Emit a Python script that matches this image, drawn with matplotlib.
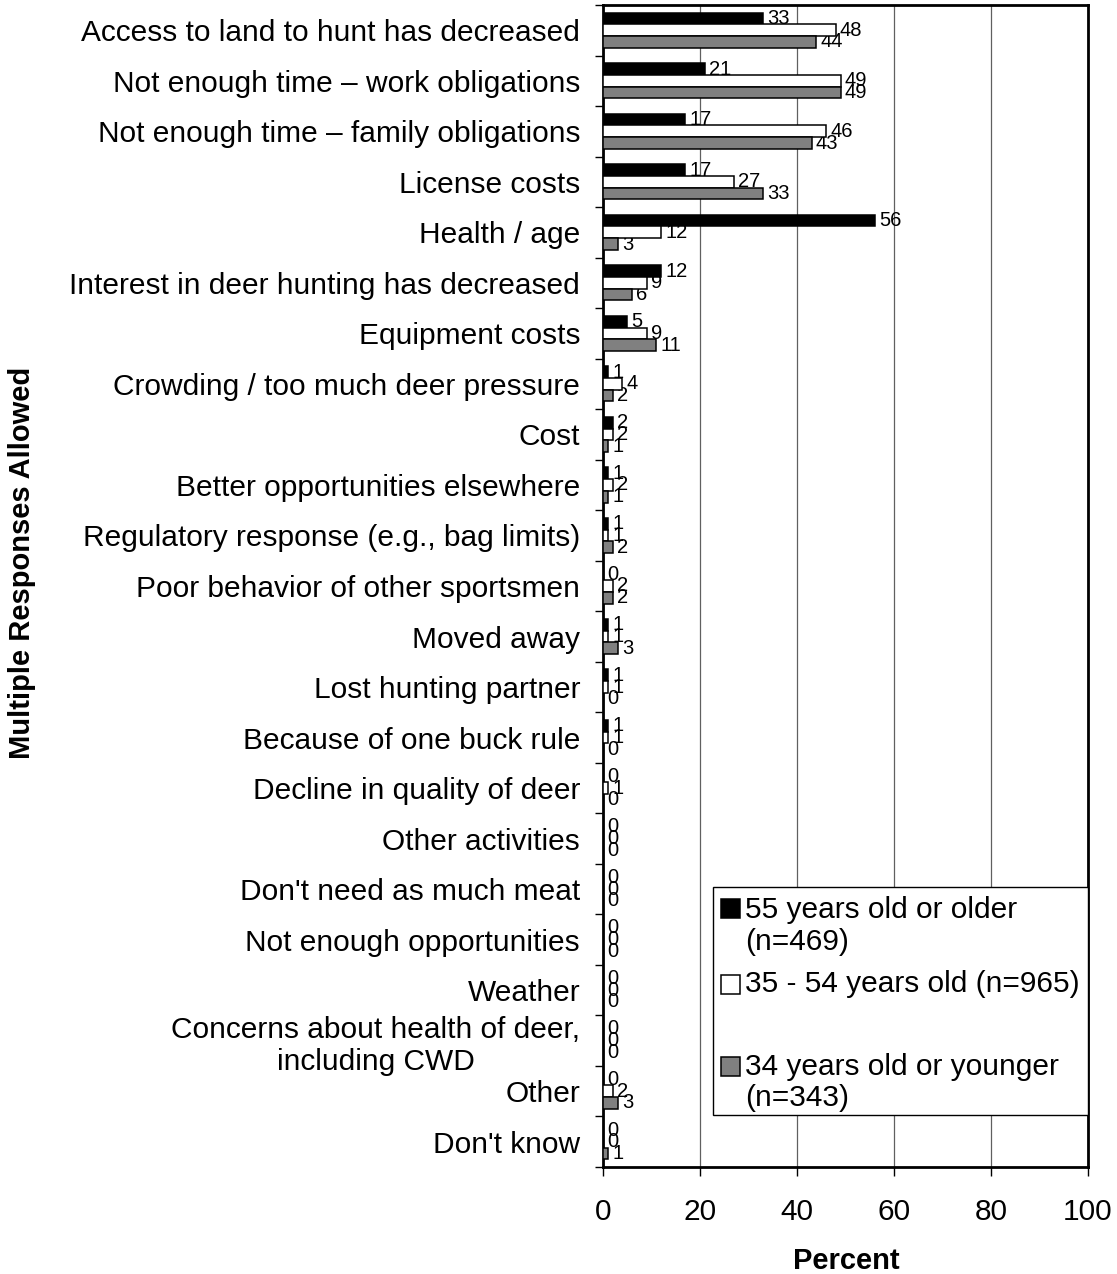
import matplotlib
matplotlib.use("Agg")
import matplotlib.pyplot as plt
from matplotlib.patches import Rectangle
from matplotlib.ticker import FixedLocator
import numpy as np

plt.rcParams['font.family'] = ['Liberation Sans', 'DejaVu Sans']

categories = [
    "Access to land to hunt has decreased",
    "Not enough time \u2013 work obligations",
    "Not enough time \u2013 family obligations",
    "License costs",
    "Health / age",
    "Interest in deer hunting has decreased",
    "Equipment costs",
    "Crowding / too much deer pressure",
    "Cost",
    "Better opportunities elsewhere",
    "Regulatory response (e.g., bag limits)",
    "Poor behavior of other sportsmen",
    "Moved away",
    "Lost hunting partner",
    "Because of one buck rule",
    "Decline in quality of deer",
    "Other activities",
    "Don't need as much meat",
    "Not enough opportunities",
    "Weather",
    "Concerns about health of deer,\nincluding CWD",
    "Other",
    "Don't know",
]

age_55_plus = [33, 21, 17, 17, 56, 12, 5, 1, 2, 1, 1, 0, 1, 1, 1, 0, 0, 0, 0, 0, 0, 0, 0]
age_35_54 = [48, 49, 46, 27, 12, 9, 9, 4, 2, 2, 1, 2, 1, 1, 1, 1, 0, 0, 0, 0, 0, 2, 0]
age_34_under = [44, 49, 43, 33, 3, 6, 11, 2, 1, 1, 2, 2, 3, 0, 0, 0, 0, 0, 0, 0, 0, 3, 1]

series_labels = [
    "55 years old or older\n(n=469)",
    "35 - 54 years old (n=965)",
    "34 years old or younger\n(n=343)",
]
series_colors = ["#000000", "#ffffff", "#808080"]

x_ticks = [0, 20, 40, 60, 80, 100]

W, H = 1117, 1274
fig = plt.figure(figsize=(W / 100, H / 100), dpi=100)


def fx(px):
    return px / W


def fy(py):
    return 1 - py / H


ax = fig.add_axes([fx(603), fy(1167), (1088 - 603) / W, (1167 - 5) / H])

y = np.arange(len(categories))
bar_h = 0.232
offsets = [-bar_h, 0.0, bar_h]
all_series = [age_55_plus, age_35_54, age_34_under]

for vals, off, col in zip(all_series, offsets, series_colors):
    cont = ax.barh(y + off, vals, height=bar_h, color=col, edgecolor="black",
                   linewidth=1.1, zorder=3)
    texts = ax.bar_label(cont, labels=[f"{v:.0f}" for v in vals], padding=3,
                         fontsize=14.5)
    for t in texts:
        t.set_zorder(2)

ax.set_xlim(0, 100)
ax.set_ylim(len(categories) - 0.5, -0.5)
ax.set_xticks(x_ticks)
ax.set_xticklabels([str(t) for t in x_ticks])
ax.set_yticks(y)
ax.set_yticklabels(categories, fontsize=21.5)
for lbl in ax.get_yticklabels():
    lbl.set_multialignment("center")
ax.yaxis.set_minor_locator(FixedLocator(np.arange(len(categories) + 1) - 0.5))
ax.tick_params(axis="y", which="major", length=0, pad=16.5)
ax.tick_params(axis="y", which="minor", length=6, width=1, direction="out")
ax.tick_params(axis="x", which="major", length=6.5, width=1, direction="out",
               labelsize=21.5, pad=16)

ax.xaxis.grid(True, color="#606060", linewidth=0.9)
ax.set_axisbelow(True)
for side in ["left", "right", "top", "bottom"]:
    ax.spines[side].set_linewidth(2)
    ax.spines[side].set_color("black")

fig.text(fx(846), fy(1261), "Percent", fontsize=21, fontweight="bold",
         ha="center", va="center")
fig.text(fx(22), fy(563), "Multiple Responses Allowed", fontsize=21,
         fontweight="bold", rotation=90, ha="center", va="center")

# Legend box drawn with figure coordinates
box = Rectangle((fx(713), fy(1115)), (1088 - 713) / W, (1115 - 887) / H,
                transform=fig.transFigure, facecolor="white", edgecolor="black",
                linewidth=1, zorder=5)
fig.patches.append(box)

square_tops = [899, 975, 1057]
line_centers = [[910, 942], [984], [1067, 1098]]
for col, top, lbl, centers in zip(series_colors, square_tops, series_labels,
                                  line_centers):
    sq = Rectangle((fx(721), fy(top + 19)), 19 / W, 19 / H,
                   transform=fig.transFigure, facecolor=col, edgecolor="black",
                   linewidth=1.1, zorder=6)
    fig.patches.append(sq)
    for line, cy in zip(lbl.split("\n"), centers):
        fig.text(fx(745), fy(cy), line, fontsize=21.5, ha="left", va="center",
                 zorder=7)

fig.savefig("out.png", dpi=100)
